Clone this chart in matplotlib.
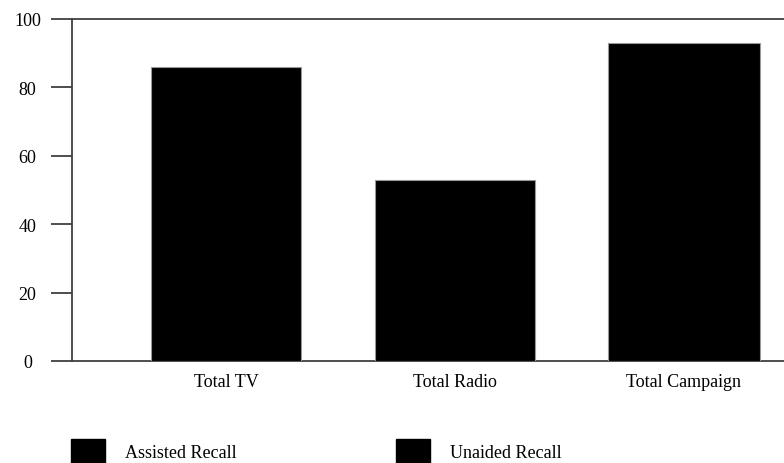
import matplotlib
matplotlib.use("Agg")
import matplotlib.pyplot as plt
from matplotlib.patches import Patch

# ─── Data ────────────────────────────────────────────────────────
categories = ["Total TV", "Total Radio", "Total Campaign"]
assisted_recall = [86, 53, 93]
series_names = ["Assisted Recall", "Unaided Recall"]
y_ticks = [0, 20, 40, 60, 80, 100]

plt.rcParams["font.family"] = ["Liberation Serif", "DejaVu Serif"]
plt.rcParams["font.size"] = 13

fig = plt.figure(figsize=(7.84, 4.64), dpi=100)
ax = fig.add_axes([72 / 784, 1 - 362 / 464, 1 - 72 / 784, (362 - 20) / 464])

x = list(range(len(categories)))
ax.bar(x, assisted_recall, width=[0.655, 0.70, 0.665], color="black",
       edgecolor="#999999", linewidth=0.8, zorder=3)

ax.set_xlim(-0.672, 2.437)
ax.set_ylim(0, 100)
ax.set_yticks(y_ticks)
ax.set_xticks(x)
ax.set_xticklabels(categories)

spine_col = "#404040"
for side in ["left", "top", "bottom"]:
    ax.spines[side].set_color(spine_col)
    ax.spines[side].set_linewidth(1.3)
ax.spines["right"].set_visible(False)

ax.tick_params(axis="y", length=15, width=1.3, color=spine_col, pad=17)
ax.tick_params(axis="x", length=0, pad=9)
for lbl in ax.get_yticklabels():
    lbl.set_horizontalalignment("center")

# ─── Legend ──────────────────────────────────────────────────────
handles = [Patch(facecolor="black", edgecolor="black", label=n) for n in series_names]
fig.legend(handles=handles, loc="lower left", bbox_to_anchor=(71 / 784, 0.0),
           ncol=2, frameon=False, borderpad=0, borderaxespad=0,
           handlelength=1.9, handleheight=1.65, handletextpad=1.1,
           columnspacing=8.8)

fig.savefig("out.png", dpi=100)
